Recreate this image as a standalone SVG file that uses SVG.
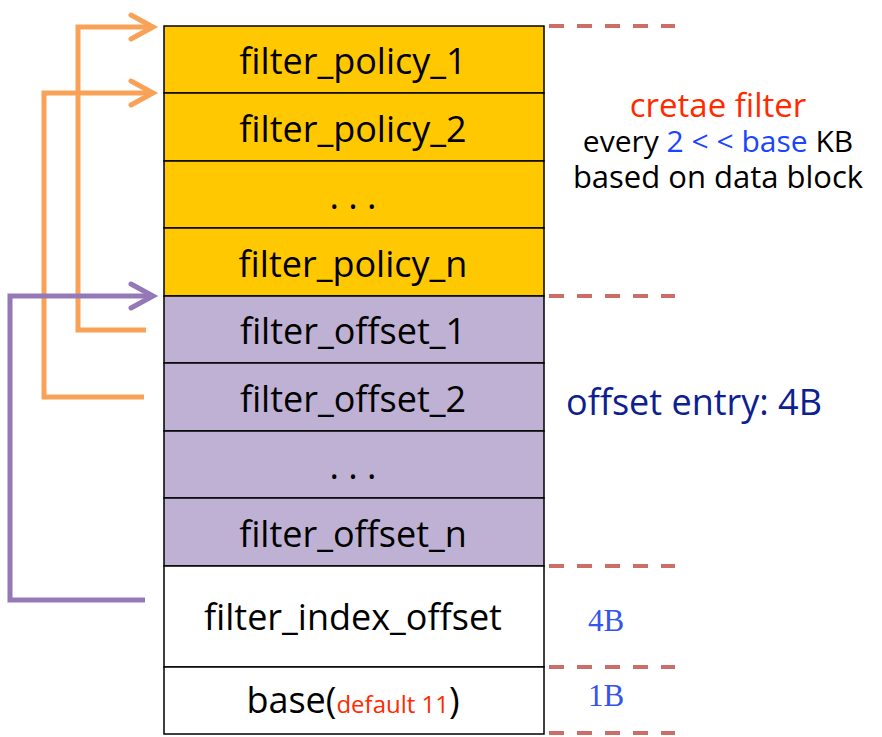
<svg xmlns="http://www.w3.org/2000/svg" width="882" height="737" viewBox="0 0 882 737">
<defs>
<style>
.cell{stroke:#000;stroke-width:1.5}
.pol{fill:#ffc800}
.off{fill:#bfb1d4}
.wh{fill:#fff}
.t{font-family:"Open Sans","Noto Sans",sans-serif;font-size:36px;fill:#000;text-anchor:middle}
.n{font-family:"Open Sans","Noto Sans",sans-serif}
.s{font-family:"Liberation Serif",serif;font-size:31px;fill:#3355ee;text-anchor:middle}
.dash{stroke:#cd6d68;stroke-width:4;stroke-dasharray:15 13;fill:none}
.ora{stroke:#f9a257;stroke-width:5;fill:none}
.pur{stroke:#9478b8;stroke-width:5;fill:none}
</style>
</defs>
<rect width="882" height="737" fill="#fff"/>
<g id="row_policy_1"><rect class="cell pol" x="164" y="26" width="380" height="67"/><text class="t" x="353" y="74">filter_policy_1</text></g>
<g id="row_policy_2"><rect class="cell pol" x="164" y="93" width="380" height="68"/><text class="t" x="353" y="142">filter_policy_2</text></g>
<g id="row_policy_dots"><rect class="cell pol" x="164" y="161" width="380" height="67"/><text class="t" x="353" y="209">. . .</text></g>
<g id="row_policy_n"><rect class="cell pol" x="164" y="228" width="380" height="68"/><text class="t" x="353" y="277">filter_policy_n</text></g>
<g id="row_offset_1"><rect class="cell off" x="164" y="296" width="380" height="67"/><text class="t" x="353" y="344">filter_offset_1</text></g>
<g id="row_offset_2"><rect class="cell off" x="164" y="363" width="380" height="68"/><text class="t" x="353" y="412">filter_offset_2</text></g>
<g id="row_offset_dots"><rect class="cell off" x="164" y="431" width="380" height="67"/><text class="t" x="353" y="479">. . .</text></g>
<g id="row_offset_n"><rect class="cell off" x="164" y="498" width="380" height="68"/><text class="t" x="353" y="547">filter_offset_n</text></g>
<g id="row_index_offset"><rect class="cell wh" x="164" y="566" width="380" height="101"/><text class="t" x="353" y="630">filter_index_offset</text></g>
<g id="row_base"><rect class="cell wh" x="164" y="667" width="380" height="67"/><text class="t" x="353" y="713">base(<tspan font-size="24" fill="#ff2a00">default 11</tspan>)</text></g>
<g id="dashes">
<line class="dash" x1="549" y1="26" x2="675" y2="26"/>
<line class="dash" x1="549" y1="296" x2="675" y2="296"/>
<line class="dash" x1="549" y1="566" x2="675" y2="566"/>
<line class="dash" x1="549" y1="667" x2="675" y2="667"/>
<line class="dash" x1="549" y1="733" x2="675" y2="733"/>
</g>
<g id="connectors">
<path class="ora" d="M146 330 H78 V27 H153"/>
<path class="ora" d="M131 15 L153 27 L131 39" stroke-linecap="round"/>
<path class="ora" d="M144 397 H44 V93 H153"/>
<path class="ora" d="M131 81 L153 93 L131 105" stroke-linecap="round"/>
<path class="pur" d="M145 600 H10 V296 H153"/>
<path class="pur" d="M131 284 L153 296 L131 308" stroke-linecap="round"/>
</g>
<g id="notes">
<text class="n" x="718" y="117" font-size="33" fill="#ff2a00" text-anchor="middle">cretae filter</text>
<text class="n" x="718" y="152" font-size="30" fill="#000" text-anchor="middle">every <tspan fill="#1a44ff">2 &lt; &lt; base</tspan> KB</text>
<text class="n" x="718" y="188" font-size="31" fill="#000" text-anchor="middle">based on data block</text>
<text class="n" x="566" y="415" font-size="36" fill="#0c2090">offset entry: 4B</text>
<text class="s" x="606" y="631">4B</text>
<text class="s" x="606" y="706">1B</text>
</g>
</svg>
